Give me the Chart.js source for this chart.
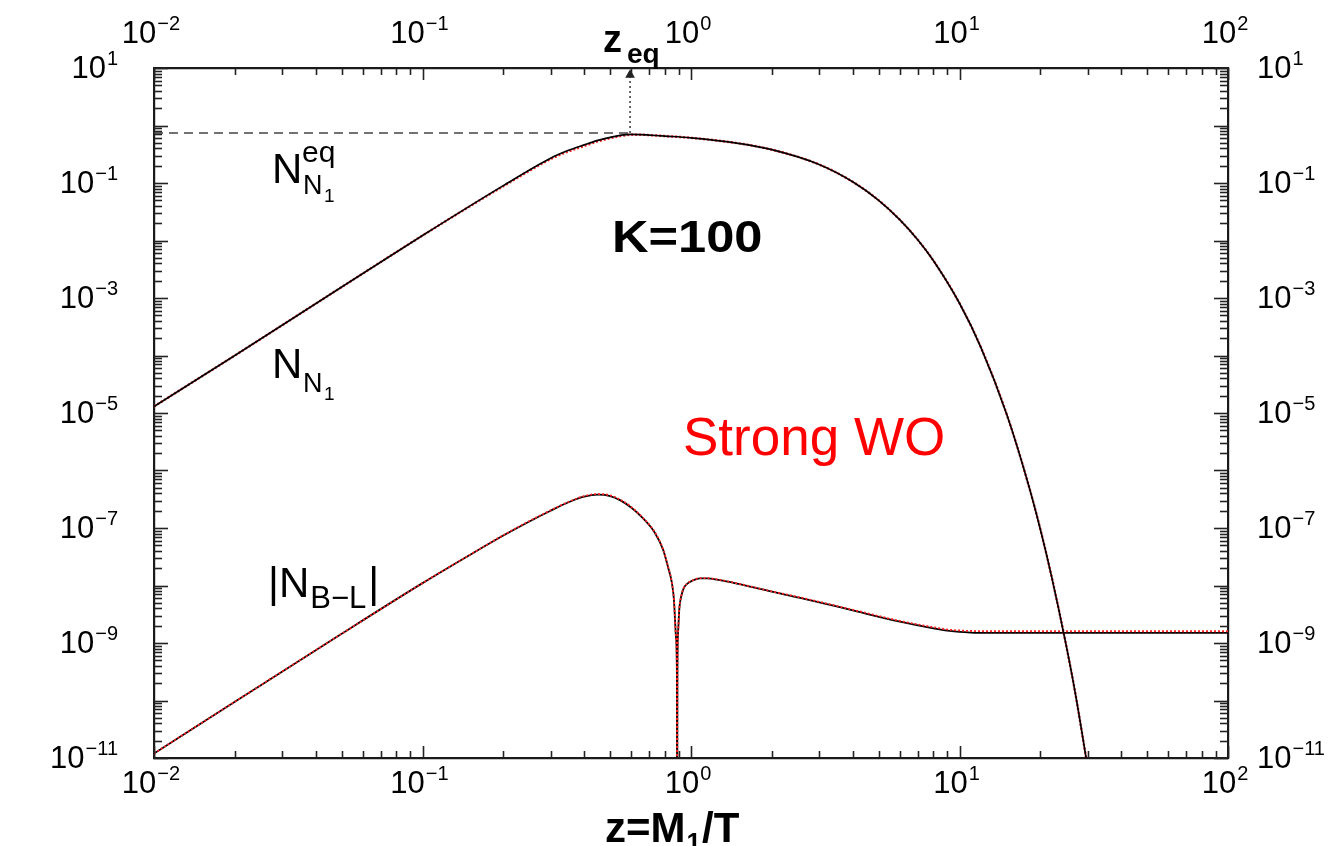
<!DOCTYPE html>
<html><head><meta charset="utf-8">
<script src="https://cdn.jsdelivr.net/npm/chart.js@4.4.0/dist/chart.umd.min.js"></script>
<style>html,body{margin:0;padding:0;background:#fff;overflow:hidden}#wrap{width:1342px;height:846px;position:relative}</style>
</head><body><div id="wrap"><canvas id="c" width="1342" height="846"></canvas></div>
<script>
// ---- data ----
const zN1 = [0.01, 0.02, 0.05, 0.1, 0.2, 0.3, 0.35, 0.4, 0.45, 0.5, 0.55, 0.6, 0.65, 0.7, 0.8, 1.0, 1.5, 2, 3, 4, 5, 6, 7, 8, 10, 12, 15, 18, 20, 22, 25, 27, 30];
const nN1Black = [1.3e-5, 1.0e-4, 1.55e-3, 1.22e-2, 0.09, 0.27, 0.37, 0.46, 0.55, 0.62, 0.68, 0.70, 0.695, 0.68, 0.655, 0.61, 0.49, 0.38, 0.21, 0.105, 0.050, 0.0228, 0.0102, 0.00445, 8.1e-4, 1.4e-4, 9.4e-6, 6.0e-7, 9.5e-8, 1.47e-8, 8.8e-10, 1.33e-10, 7.0e-12];
const nN1Red   = [1.3e-5, 1.0e-4, 1.55e-3, 1.22e-2, 0.088, 0.26, 0.355, 0.44, 0.53, 0.60, 0.66, 0.69, 0.69, 0.68, 0.655, 0.61, 0.49, 0.38, 0.21, 0.105, 0.050, 0.0228, 0.0102, 0.00445, 8.1e-4, 1.4e-4, 9.4e-6, 6.0e-7, 9.5e-8, 1.47e-8, 8.8e-10, 1.33e-10, 7.0e-12];

const zBL = [0.01, 0.02, 0.05, 0.1, 0.15, 0.2, 0.25, 0.3, 0.35, 0.4, 0.45, 0.5, 0.544, 0.6, 0.66, 0.734, 0.787, 0.821, 0.849, 0.864, 0.871, 0.88, 0.886, 0.888, 0.890, 0.895, 0.905, 0.92, 0.94, 0.97, 1.0, 1.08, 1.15, 1.25, 1.43, 2.0, 2.55, 3.9, 6.0, 8.0, 9.2, 11, 13, 20, 50, 100];
const nBLBlack = [1.2e-11, 9.5e-11, 1.45e-9, 1.1e-8, 3.4e-8, 7.4e-8, 1.3e-7, 2.0e-7, 2.8e-7, 3.5e-7, 3.8e-7, 3.6e-7, 3.05e-7, 2.25e-7, 1.5e-7, 8.2e-8, 4.2e-8, 2.1e-8, 1.1e-8, 5.6e-9, 2.8e-9, 1.2e-9, 3e-10, 1e-13, 3e-10, 1.5e-9, 4e-9, 6.5e-9, 9e-9, 1.08e-8, 1.18e-8, 1.33e-8, 1.33e-8, 1.27e-8, 1.12e-8, 7.8e-9, 6.1e-9, 3.8e-9, 2.35e-9, 1.8e-9, 1.62e-9, 1.52e-9, 1.5e-9, 1.5e-9, 1.5e-9, 1.5e-9];
const nBLRed   = [1.2e-11, 9.5e-11, 1.45e-9, 1.1e-8, 3.4e-8, 7.5e-8, 1.32e-7, 2.03e-7, 2.85e-7, 3.58e-7, 3.9e-7, 3.7e-7, 3.12e-7, 2.3e-7, 1.53e-7, 8.4e-8, 4.3e-8, 2.15e-8, 1.12e-8, 5.7e-9, 2.85e-9, 1.2e-9, 3e-10, 1e-13, 3e-10, 1.5e-9, 4e-9, 6.6e-9, 9.1e-9, 1.09e-8, 1.19e-8, 1.34e-8, 1.34e-8, 1.28e-8, 1.13e-8, 7.9e-9, 6.2e-9, 3.9e-9, 2.42e-9, 1.88e-9, 1.7e-9, 1.62e-9, 1.6e-9, 1.6e-9, 1.6e-9, 1.6e-9];

const zEqGuide = [0.01, 0.593];
const nEqGuide = [0.74, 0.74];
const zArrow = [0.593, 0.593];
const nArrow = [0.74, 7.6];

// tick labels: 10^exponent
const xTickValues = [0.01, 0.1, 1, 10, 100];
const xTickExps = ['\u22122', '\u22121', '0', '1', '2'];
const yTickValues = [10, 0.1, 1e-3, 1e-5, 1e-7, 1e-9, 1e-11];
const yTickExps = ['1', '\u22121', '\u22123', '\u22125', '\u22127', '\u22129', '\u221211'];

// ---- helpers ----
const pts = (xs, ys) => xs.map((x, i) => ({x, y: ys[i]}));
const FONT = "'Liberation Sans', Arial, Helvetica, sans-serif";
function logTicks(minExp, maxExp) {
  const t = [];
  for (let e = minExp; e <= maxExp; e++) {
    for (let m = 1; m <= 9; m++) {
      if (e === maxExp && m > 1) break;
      t.push({value: parseFloat((m * Math.pow(10, e)).toPrecision(6)), major: m === 1});
    }
  }
  return t;
}
function axis(kind, pos, fit) {
  const isX = kind === 'x';
  return {
    type: 'logarithmic', position: pos,
    min: isX ? 0.01 : 1e-11, max: isX ? 100 : 10,
    afterBuildTicks: s => { s.ticks = isX ? logTicks(-2, 2) : logTicks(-11, 1); },
    afterFit: fit,
    ticks: {display: false, autoSkip: false},
    grid: {display: true, drawOnChartArea: false, drawTicks: false},
    border: {display: true, color: '#1a1a1a', width: 2.2}
  };
}

const BASE_PX = 31, EXP_PX = 20;
function powWidth(ctx, e) {
  ctx.font = BASE_PX + 'px ' + FONT; const a = ctx.measureText('10').width;
  ctx.font = EXP_PX + 'px ' + FONT; const b = ctx.measureText(e).width;
  return [a, b];
}
function drawPow(ctx, e, x, y) { // x = left, y = baseline of "10"
  ctx.font = BASE_PX + 'px ' + FONT; ctx.fillText('10', x, y);
  const a = ctx.measureText('10').width;
  ctx.font = EXP_PX + 'px ' + FONT; ctx.fillText(e, x + a + 1, y - 13);
}

const axesDeco = {
  id: 'axesDeco',
  afterDraw(chart) {
    const {ctx, chartArea: a, scales} = chart;
    ctx.save();
    ctx.strokeStyle = '#222'; ctx.lineWidth = 1.6;
    const ln = (x1, y1, x2, y2) => { ctx.beginPath(); ctx.moveTo(x1, y1); ctx.lineTo(x2, y2); ctx.stroke(); };
    scales.x.ticks.forEach(t => {
      const p = Math.round(scales.x.getPixelForValue(t.value)) + 0.5;
      const L = t.major ? 12 : 7;
      ln(p, a.bottom, p, a.bottom - L);
      ln(p, a.top, p, a.top + L);
    });
    scales.y.ticks.forEach(t => {
      const p = Math.round(scales.y.getPixelForValue(t.value)) + 0.5;
      const L = t.major ? 14 : 8;
      ln(a.left, p, a.left + L, p);
      ln(a.right, p, a.right - L, p);
    });
    // tick labels
    ctx.fillStyle = '#000'; ctx.textAlign = 'left'; ctx.textBaseline = 'alphabetic';
    xTickValues.forEach((v, i) => {
      const p = scales.x.getPixelForValue(v);
      const [wa, wb] = powWidth(ctx, xTickExps[i]);
      const left = p - 3 - (wa + wb + 1) / 2;
      drawPow(ctx, xTickExps[i], left, a.bottom + 35);
      drawPow(ctx, xTickExps[i], left, a.top - 25);
    });
    yTickValues.forEach((v, i) => {
      const p = scales.y.getPixelForValue(v);
      const [wa, wb] = powWidth(ctx, yTickExps[i]);
      drawPow(ctx, yTickExps[i], a.left - 36 - (wa + wb + 1), p + 10);
      drawPow(ctx, yTickExps[i], a.right + 29, p + 10);
    });
    ctx.restore();
  }
};

const notes = {
  id: 'notes',
  afterDraw(chart) {
    const ctx = chart.ctx;
    ctx.save();
    ctx.textBaseline = 'alphabetic';
    ctx.textAlign = 'left';
    const txt = (s, x, y, size, bold, color) => {
      ctx.font = (bold ? 'bold ' : '') + size + 'px ' + FONT;
      ctx.fillStyle = color || '#000';
      ctx.fillText(s, x, y);
      return x + ctx.measureText(s).width;
    };
    // N^eq_N1
    txt('N', 272, 183, 42);
    txt('eq', 302, 162, 30);
    txt('N', 303, 194, 27);
    txt('1', 324, 202, 19);
    // N_N1
    txt('N', 272, 378, 42);
    txt('N', 303, 392, 27);
    txt('1', 324, 400, 19);
    // |N_B-L|
    let x = txt('|N', 268, 597, 42);
    x = txt('B\u2212L', x + 1, 608, 31);
    txt('|', x + 2, 597, 42);
    // K=100
    ctx.save(); ctx.translate(612, 252); ctx.scale(1.15, 1);
    txt('K=100', 0, 0, 44, true);
    ctx.restore();
    // Strong WO
    txt('Strong WO', 683, 455, 53, false, '#ff0000');
    // z_eq
    txt('z', 603, 52, 38, true);
    txt('eq', 627, 63, 28, true);
    // x title
    x = txt('z=M', 605, 842, 42, true);
    x = txt('1', x + 1, 851, 26, true);
    txt('/T', x + 1, 842, 42, true);
    ctx.restore();
  }
};

new Chart(document.getElementById('c'), {
  type: 'line',
  data: {
    datasets: [
      {label: 'N1 black', data: pts(zN1, nN1Black), borderColor: '#000', borderWidth: 1.7, pointRadius: 0, cubicInterpolationMode: 'monotone', order: 1},
      {label: 'N1 red', data: pts(zN1, nN1Red), borderColor: '#ff2020', borderWidth: 2.4, borderDash: [2, 2], pointRadius: 0, cubicInterpolationMode: 'monotone', order: 2},
      {label: 'BL black', data: pts(zBL, nBLBlack), borderColor: '#000', borderWidth: 1.8, pointRadius: 0, cubicInterpolationMode: 'monotone', order: 2},
      {label: 'BL red', data: pts(zBL, nBLRed), borderColor: '#ff2020', borderWidth: 1.8, borderDash: [2, 2], pointRadius: 0, cubicInterpolationMode: 'monotone', order: 1},
      {label: 'eq guide', data: pts(zEqGuide, nEqGuide), borderColor: '#444', borderWidth: 1.6, borderDash: [9, 6], pointRadius: 0, order: 3},
      {label: 'z_eq arrow', data: pts(zArrow, nArrow), borderColor: '#444', borderWidth: 1.6, borderDash: [2, 3], pointRadius: [0, 4], pointStyle: 'triangle', pointBackgroundColor: '#222', pointBorderColor: '#222', order: 3}
    ]
  },
  options: {
    responsive: false, animation: false, devicePixelRatio: 1,
    layout: {padding: 0},
    plugins: {legend: {display: false}, tooltip: {enabled: false}, title: {display: false}},
    scales: {
      x: axis('x', 'bottom', s => { s.height = 88; }),
      x2: axis('x', 'top', s => { s.height = 68; }),
      y: axis('y', 'left', s => { s.width = 154; }),
      y2: axis('y', 'right', s => { s.width = 114; })
    }
  },
  plugins: [axesDeco, notes]
});
</script>
</body></html>
